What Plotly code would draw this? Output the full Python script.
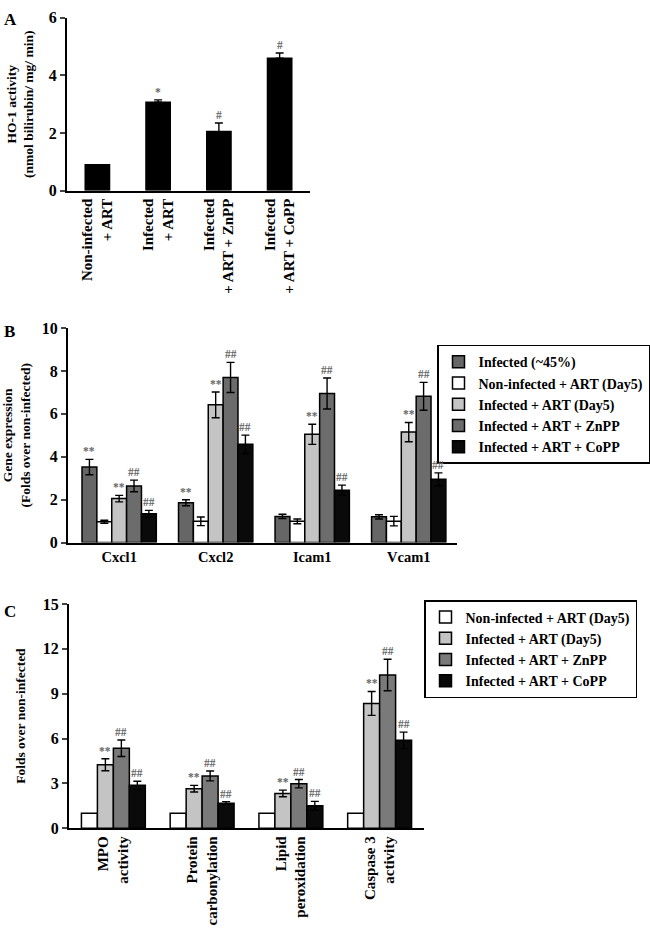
import plotly.graph_objects as go

FONT = "Liberation Serif, Times New Roman, serif"

# ---------------- Panel A data ----------------
a_labels = ["Non-infected<br>+ ART", "Infected<br>+ ART",
            "Infected<br>+ ART + ZnPP", "Infected<br>+ ART + CoPP"]
a_values = [0.90, 3.07, 2.05, 4.60]
a_errors = [0.0, 0.08, 0.30, 0.18]
a_marks = ["", "*", "#", "#"]
a_yticks = [0, 2, 4, 6]

# ---------------- Panel B data ----------------
b_labels = ["Cxcl1", "Cxcl2", "Icam1", "Vcam1"]
b_series = ["Infected (~45%)", "Non-infected + ART (Day5)",
            "Infected + ART (Day5)", "Infected + ART + ZnPP",
            "Infected + ART + CoPP"]
b_infected = [3.52, 1.86, 1.22, 1.20]
b_infected_err = [0.36, 0.14, 0.10, 0.10]
b_noninf = [0.97, 0.99, 0.99, 1.00]
b_noninf_err = [0.07, 0.20, 0.11, 0.22]
b_art = [2.05, 6.42, 5.05, 5.15]
b_art_err = [0.15, 0.60, 0.47, 0.45]
b_znpp = [2.64, 7.70, 6.95, 6.82]
b_znpp_err = [0.27, 0.70, 0.72, 0.65]
b_copp = [1.34, 4.58, 2.44, 2.95]
b_copp_err = [0.16, 0.43, 0.24, 0.30]
b_infected_marks = ["**", "**", "", ""]
b_art_marks = ["**", "**", "**", "**"]
b_znpp_marks = ["##", "##", "##", "##"]
b_copp_marks = ["##", "##", "##", "##"]
b_yticks = [0, 2, 4, 6, 8, 10]

# ---------------- Panel C data ----------------
c_labels = ["MPO<br>activity", "Protein<br>carbonylation",
            "Lipid<br>peroxidation", "Caspase 3<br>activity"]
c_series = ["Non-infected + ART (Day5)", "Infected + ART (Day5)",
            "Infected + ART + ZnPP", "Infected + ART + CoPP"]
c_noninf = [1.0, 1.0, 1.0, 1.0]
c_art = [4.25, 2.65, 2.33, 8.35]
c_art_err = [0.40, 0.22, 0.22, 0.80]
c_znpp = [5.35, 3.50, 2.98, 10.25]
c_znpp_err = [0.55, 0.33, 0.28, 1.05]
c_copp = [2.87, 1.68, 1.50, 5.88]
c_copp_err = [0.28, 0.10, 0.30, 0.55]
c_art_marks = ["**", "**", "**", "**"]
c_znpp_marks = ["##", "##", "##", "##"]
c_copp_marks = ["##", "##", "##", "##"]
c_yticks = [0, 3, 6, 9, 12, 15]

# ---------------- styles ----------------
COL_INF = "#666666"
COL_NON = "#ffffff"
COL_ART = "#c4c4c4"
COL_ZN_B = "#6c6c6c"
COL_ZN_C = "#7a7a7a"
COL_CO = "#0a0a0a"
MARK_COL = "#666666"

fig = go.Figure()
annotations = []


def add_series(xaxis, yaxis, values, errors, color, name, legend, offset,
               width, marks=None, show=True, plus_only=False):
    n = len(values)
    xs = list(range(n))
    err = None
    if errors is not None:
        err = dict(type="data", array=errors, color="black", thickness=1.4,
                   width=4, visible=True)
        if plus_only:
            err["symmetric"] = False
            err["arrayminus"] = [0] * n
    fig.add_trace(go.Bar(
        x=xs, y=values, name=name, xaxis=xaxis, yaxis=yaxis,
        width=width, offset=offset,
        marker=dict(color=color, line=dict(color="black", width=1.5)),
        error_y=err, showlegend=show, legend=legend,
    ))
    if marks:
        for i, m in enumerate(marks):
            if not m:
                continue
            top = values[i] + (errors[i] if errors else 0)
            annotations.append(dict(
                x=xs[i] + offset + width / 2, y=top,
                xref=xaxis, yref=yaxis.replace("axis", ""),
                text=m, showarrow=False, yanchor="bottom", yshift=0,
                font=dict(size=11.5, color=MARK_COL, family=FONT),
            ))


# Panel A
add_series("x", "y", a_values, a_errors, "black", "HO-1", None, -0.2, 0.4,
           marks=a_marks, show=False, plus_only=True)

# Panel B
bw = 0.154
b0 = -0.385
b_data = [(b_infected, b_infected_err, COL_INF, b_infected_marks),
          (b_noninf, b_noninf_err, COL_NON, None),
          (b_art, b_art_err, COL_ART, b_art_marks),
          (b_znpp, b_znpp_err, COL_ZN_B, b_znpp_marks),
          (b_copp, b_copp_err, COL_CO, b_copp_marks)]
for k, (vals, errs, col, mk) in enumerate(b_data):
    add_series("x2", "y2", vals, errs, col, b_series[k], "legend",
               b0 + k * bw, bw, marks=mk)

# Panel C
cw = 0.18
c0 = -0.36
c_data = [(c_noninf, None, COL_NON, None),
          (c_art, c_art_err, COL_ART, c_art_marks),
          (c_znpp, c_znpp_err, COL_ZN_C, c_znpp_marks),
          (c_copp, c_copp_err, COL_CO, c_copp_marks)]
for k, (vals, errs, col, mk) in enumerate(c_data):
    add_series("x3", "y3", vals, errs, col, c_series[k], "legend2",
               c0 + k * cw, cw, marks=mk)

W, H = 650, 934


def py(p):
    return 1 - p / H


axis_common = dict(showline=True, linecolor="black", linewidth=2,
                   showgrid=False, zeroline=False, mirror=False)
xfont = dict(family=FONT, size=15, color="black", weight="bold")
yfont = dict(family=FONT, size=16, color="black", weight="bold")
legfont = dict(family=FONT, size=14, color="black", weight="bold")

fig.update_layout(
    width=W, height=H, margin=dict(l=0, r=0, t=0, b=0),
    paper_bgcolor="white", plot_bgcolor="white",
    barmode="overlay",
    font=dict(family=FONT, color="black", weight="bold"),
    xaxis=dict(domain=[67 / W, 310 / W], range=[-0.5, 3.5],
               tickvals=list(range(4)), ticktext=a_labels, tickangle=-90,
               ticks="", tickfont=xfont, anchor="y", **axis_common),
    yaxis=dict(domain=[py(186), py(10)], range=[0, 6], tickvals=a_yticks,
               ticks="outside", ticklen=5, tickwidth=2, tickfont=yfont,
               anchor="x",
               title=dict(text="HO-1 activity<br>(nmol bilirubin/ mg/ min)",
                          font=dict(family=FONT, size=13.5, weight="bold"),
                          standoff=12),
               **axis_common),
    xaxis2=dict(domain=[68 / W, 457 / W], range=[-0.53, 3.5],
                tickvals=list(range(4)), ticktext=b_labels, tickangle=0,
                ticks="", tickfont=dict(family=FONT, size=14.5, color="black", weight="bold"),
                anchor="y2", **axis_common),
    yaxis2=dict(domain=[py(544.5), py(326)], range=[0, 10], tickvals=b_yticks,
                ticks="outside", ticklen=5, tickwidth=2, tickfont=yfont,
                anchor="x2",
                title=dict(text="Gene expression<br>(Folds over non-infected)",
                           font=dict(family=FONT, size=13.5, weight="bold"),
                           standoff=12),
                **axis_common),
    xaxis3=dict(domain=[69 / W, 424 / W], range=[-0.5, 3.5],
                tickvals=list(range(4)), ticktext=c_labels, tickangle=-90,
                ticks="", tickfont=xfont, anchor="y3", **axis_common),
    yaxis3=dict(domain=[py(835.5), py(607)], range=[0, 15], tickvals=c_yticks,
                ticks="outside", ticklen=5, tickwidth=2, tickfont=yfont,
                anchor="x3",
                title=dict(text="Folds over non-infected",
                           font=dict(family=FONT, size=13.5, weight="bold"),
                           standoff=14),
                **axis_common),
    legend=dict(x=1.0, y=py(343), xanchor="right", yanchor="top",
                bordercolor="black", borderwidth=1.5, bgcolor="white",
                font=legfont, tracegroupgap=0, itemwidth=30),
    legend2=dict(x=637 / W, y=py(603), xanchor="right", yanchor="top",
                 bordercolor="black", borderwidth=1.5, bgcolor="white",
                 font=legfont, tracegroupgap=0, itemwidth=30),
)

for lbl, ypix in (("A", 12), ("B", 330), ("C", 615)):
    annotations.append(dict(x=2 / W, y=py(ypix), xref="paper", yref="paper",
                            text=lbl, showarrow=False, xanchor="left",
                            yanchor="middle",
                            font=dict(family=FONT, size=17, weight="bold")))

fig.update_layout(annotations=annotations)
fig.write_html("out.html", config={"displayModeBar": False},
               post_script="document.body.style.margin='0px';")
